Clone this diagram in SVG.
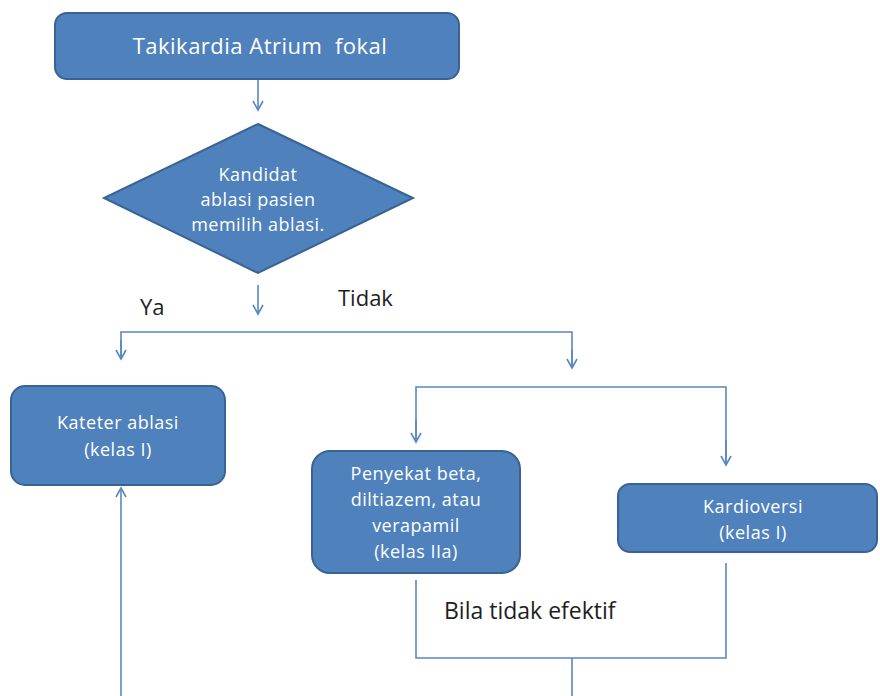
<svg xmlns="http://www.w3.org/2000/svg" width="880" height="696" viewBox="0 0 880 696">
<style>
.node{fill:#4F81BD;stroke:#3A6395;stroke-width:2}
.nt{fill:#fff;font-family:"Open Sans","Liberation Sans",sans-serif;font-size:18px;letter-spacing:0.5px;text-anchor:middle}
.lbl{fill:#1e1e1e;font-family:"Open Sans","Liberation Sans",sans-serif;font-size:22px}
.c{fill:none;stroke:#5B87BF;stroke-width:1.6}
</style>
<defs>
<marker id="ah" viewBox="0 0 12 12" refX="10" refY="6" markerWidth="12" markerHeight="12" markerUnits="userSpaceOnUse" orient="auto">
<polyline points="1,1 10,6 1,11" fill="none" stroke="#5B87BF" stroke-width="1.6"/>
</marker>
</defs>
<rect width="880" height="696" fill="#fff"/>
<g id="connectors">
<line class="c" x1="258" y1="80" x2="258" y2="110" marker-end="url(#ah)"/>
<line class="c" x1="258" y1="285" x2="258" y2="314" marker-end="url(#ah)"/>
<polyline class="c" points="121,358 121,332 572,332 572,368"/>
<line class="c" x1="121" y1="340" x2="121" y2="359" marker-end="url(#ah)"/>
<line class="c" x1="572" y1="350" x2="572" y2="368" marker-end="url(#ah)"/>
<polyline class="c" points="416,441 416,387 726,387 726,465"/>
<line class="c" x1="416" y1="420" x2="416" y2="442" marker-end="url(#ah)"/>
<line class="c" x1="726" y1="440" x2="726" y2="465" marker-end="url(#ah)"/>
<polyline class="c" points="416,580 416,658 726,658 726,563"/>
<line class="c" x1="572" y1="658" x2="572" y2="696"/>
<line class="c" x1="121" y1="696" x2="121" y2="488" marker-end="url(#ah)"/>
<text class="lbl" x="140" y="315">Ya</text>
<text class="lbl" x="338" y="306">Tidak</text>
<text class="lbl" x="444" y="619" style="font-size:23px">Bila tidak efektif</text>
</g>
<g id="n1">
<rect class="node" x="55" y="13" width="404" height="66" rx="12"/>
<text class="nt" x="260" y="54" style="font-size:22px" xml:space="preserve">Takikardia Atrium  fokal</text>
</g>
<g id="n2">
<polygon class="node" points="258,124 413,198 258,273 104,198"/>
<text class="nt" x="258" y="181">Kandidat</text>
<text class="nt" x="258" y="206">ablasi pasien</text>
<text class="nt" x="258" y="231">memilih ablasi.</text>
</g>
<g id="n3">
<rect class="node" x="11" y="386" width="214" height="99" rx="14"/>
<text class="nt" x="118" y="429">Kateter ablasi</text>
<text class="nt" x="118" y="456">(kelas I)</text>
</g>
<g id="n4">
<rect class="node" x="312" y="451" width="208" height="122" rx="18"/>
<text class="nt" x="416" y="480">Penyekat beta,</text>
<text class="nt" x="416" y="506">diltiazem, atau</text>
<text class="nt" x="416" y="532">verapamil</text>
<text class="nt" x="416" y="558">(kelas IIa)</text>
</g>
<g id="n5">
<rect class="node" x="618" y="484" width="259" height="68" rx="12"/>
<text class="nt" x="753" y="513">Kardioversi</text>
<text class="nt" x="753" y="539">(kelas I)</text>
</g>
</svg>
